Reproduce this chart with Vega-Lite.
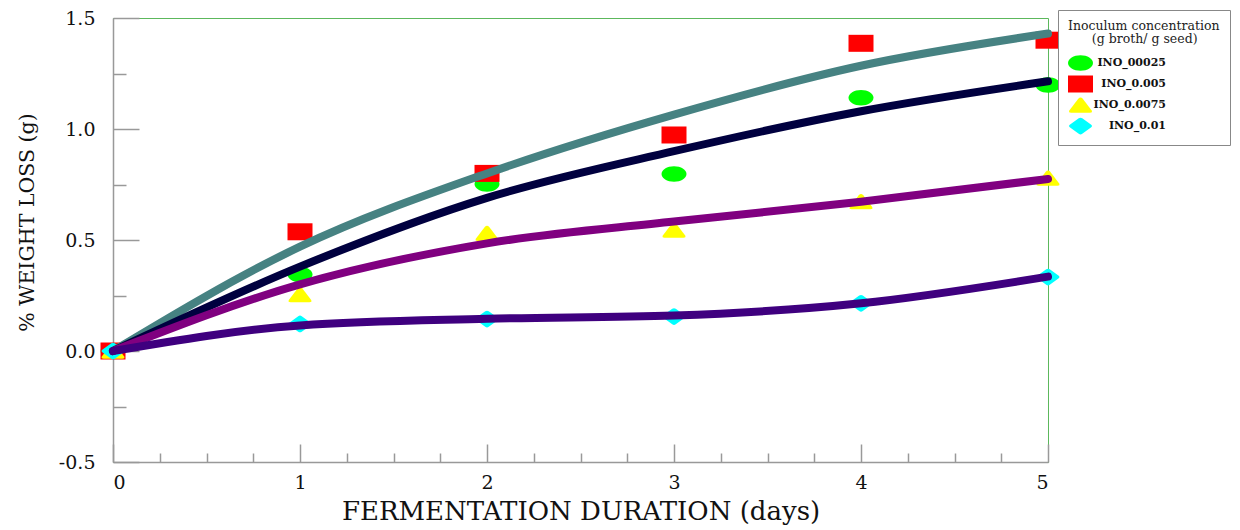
{
  "$schema": "https://vega.github.io/schema/vega-lite/v6.json",
  "width": 935,
  "height": 444,
  "autosize": {"type": "none"},
  "padding": {"left": 113, "top": 18, "right": 192, "bottom": 68},
  "background": "white",
  "datasets": {
    "points": [
      {"day": 0, "wl": 0, "conc": "INO_00025"},
      {"day": 1, "wl": 0.345, "conc": "INO_00025"},
      {"day": 2, "wl": 0.752, "conc": "INO_00025"},
      {"day": 3, "wl": 0.797, "conc": "INO_00025"},
      {"day": 4, "wl": 1.141, "conc": "INO_00025"},
      {"day": 5, "wl": 1.198, "conc": "INO_00025"},
      {"day": 0, "wl": 0, "conc": "INO_0.005"},
      {"day": 1, "wl": 0.537, "conc": "INO_0.005"},
      {"day": 2, "wl": 0.80, "conc": "INO_0.005"},
      {"day": 3, "wl": 0.973, "conc": "INO_0.005"},
      {"day": 4, "wl": 1.386, "conc": "INO_0.005"},
      {"day": 5, "wl": 1.40, "conc": "INO_0.005"},
      {"day": 0, "wl": 0, "conc": "INO_0.0075"},
      {"day": 1, "wl": 0.254, "conc": "INO_0.0075"},
      {"day": 2, "wl": 0.53, "conc": "INO_0.0075"},
      {"day": 3, "wl": 0.545, "conc": "INO_0.0075"},
      {"day": 4, "wl": 0.673, "conc": "INO_0.0075"},
      {"day": 5, "wl": 0.779, "conc": "INO_0.0075"},
      {"day": 0, "wl": 0, "conc": "INO_0.01"},
      {"day": 1, "wl": 0.122, "conc": "INO_0.01"},
      {"day": 2, "wl": 0.144, "conc": "INO_0.01"},
      {"day": 3, "wl": 0.155, "conc": "INO_0.01"},
      {"day": 4, "wl": 0.215, "conc": "INO_0.01"},
      {"day": 5, "wl": 0.333, "conc": "INO_0.01"}
    ],
    "fits": [
      {"day": 0, "wl": 0, "conc": "INO_0.005"},
      {"day": 1, "wl": 0.47, "conc": "INO_0.005"},
      {"day": 2, "wl": 0.80, "conc": "INO_0.005"},
      {"day": 3, "wl": 1.065, "conc": "INO_0.005"},
      {"day": 4, "wl": 1.285, "conc": "INO_0.005"},
      {"day": 5, "wl": 1.43, "conc": "INO_0.005"},
      {"day": 0, "wl": 0, "conc": "INO_00025"},
      {"day": 1, "wl": 0.38, "conc": "INO_00025"},
      {"day": 2, "wl": 0.69, "conc": "INO_00025"},
      {"day": 3, "wl": 0.90, "conc": "INO_00025"},
      {"day": 4, "wl": 1.08, "conc": "INO_00025"},
      {"day": 5, "wl": 1.215, "conc": "INO_00025"},
      {"day": 0, "wl": 0, "conc": "INO_0.0075"},
      {"day": 1, "wl": 0.30, "conc": "INO_0.0075"},
      {"day": 2, "wl": 0.485, "conc": "INO_0.0075"},
      {"day": 3, "wl": 0.583, "conc": "INO_0.0075"},
      {"day": 4, "wl": 0.672, "conc": "INO_0.0075"},
      {"day": 5, "wl": 0.775, "conc": "INO_0.0075"},
      {"day": 0, "wl": 0, "conc": "INO_0.01"},
      {"day": 1, "wl": 0.115, "conc": "INO_0.01"},
      {"day": 2, "wl": 0.145, "conc": "INO_0.01"},
      {"day": 3, "wl": 0.16, "conc": "INO_0.01"},
      {"day": 4, "wl": 0.215, "conc": "INO_0.01"},
      {"day": 5, "wl": 0.335, "conc": "INO_0.01"}
    ]
  },
  "layer": [
    {
      "data": {"name": "points"},
      "mark": {"type": "point", "filled": true, "size": 625, "opacity": 1, "strokeWidth": 0},
      "encoding": {
        "x": {
          "field": "day", "type": "quantitative",
          "scale": {"domain": [0, 5], "nice": false, "zero": false},
          "axis": {
            "orient": "bottom", "values": [0, 1, 2, 3, 4, 5], "format": "d",
            "tickSize": -18, "labelPadding": 29, "grid": false,
            "title": "FERMENTATION DURATION (days)",
            "titleFont": "DejaVu Serif", "titleFontSize": 26, "titleFontWeight": "normal",
            "titleBaseline": "alphabetic", "titleY": 57
          }
        },
        "y": {
          "field": "wl", "type": "quantitative",
          "scale": {"domain": [-0.5, 1.5], "nice": false, "zero": false},
          "axis": {
            "orient": "left", "values": [-0.5, 0, 0.5, 1, 1.5],
            "labelExpr": "datum.value < 0 ? '-0.5' : format(datum.value, '.1f')",
            "tickSize": -26, "labelPadding": 44, "grid": false,
            "title": "% WEIGHT LOSS (g)",
            "titleFont": "DejaVu Serif", "titleFontSize": 20.5, "titleFontWeight": "normal",
            "titleAngle": -90, "titleBaseline": "alphabetic", "titleX": -80, "titleY": 204, "titleAlign": "center"
          }
        },
        "color": {
          "field": "conc", "type": "nominal",
          "scale": {"domain": ["INO_00025", "INO_0.005", "INO_0.0075", "INO_0.01"], "range": ["#00ff00", "#ff0000", "#ffff00", "#00ffff"]},
          "legend": {"title": ["Inoculum concentration", "\u200c\u00a0\u00a0\u00a0\u00a0\u00a0\u00a0(g broth/ g seed)"], "rowPadding": -5, "columns": 1}
        },
        "shape": {
          "field": "conc", "type": "nominal",
          "scale": {
            "domain": ["INO_00025", "INO_0.005", "INO_0.0075", "INO_0.01"],
            "range": [
              "M-1,0A1,0.62,0,1,1,1,0A1,0.62,0,1,1,-1,0Z",
              "M-1,-0.68L1,-0.68L1,0.68L-1,0.68Z",
              "M-0.75,0.62Q-1,0.62,-0.88,0.42L-0.18,-0.5Q0,-0.72,0.18,-0.5L0.88,0.42Q1,0.62,0.75,0.62Z",
              "M-0.86,-0.1L-0.14,-0.62Q0,-0.72,0.14,-0.62L0.86,-0.1Q1,0,0.86,0.1L0.14,0.62Q0,0.72,-0.14,0.62L-0.86,0.1Q-1,0,-0.86,-0.1Z"
            ]
          },
          "legend": {"title": ["Inoculum concentration", "\u200c\u00a0\u00a0\u00a0\u00a0\u00a0\u00a0(g broth/ g seed)"], "rowPadding": -5, "columns": 1}
        }
      }
    },
    {
      "data": {"name": "fits"},
      "mark": {"type": "line", "strokeWidth": 8, "strokeCap": "round", "strokeJoin": "round", "interpolate": "monotone"},
      "encoding": {
        "x": {
          "field": "day", "type": "quantitative",
          "scale": {"domain": [0, 5], "nice": false, "zero": false},
          "axis": {
            "orient": "bottom",
            "values": [0.25, 0.5, 0.75, 1.25, 1.5, 1.75, 2.25, 2.5, 2.75, 3.25, 3.5, 3.75, 4.25, 4.5, 4.75],
            "labels": false, "domain": false, "title": null, "tickSize": -9, "grid": false
          }
        },
        "y": {
          "field": "wl", "type": "quantitative",
          "scale": {"domain": [-0.5, 1.5], "nice": false, "zero": false},
          "axis": {
            "orient": "left", "values": [-0.25, 0.25, 0.75, 1.25],
            "labels": false, "domain": false, "title": null, "tickSize": -13, "grid": false
          }
        },
        "stroke": {
          "field": "conc", "type": "nominal",
          "scale": {"domain": ["INO_0.005", "INO_00025", "INO_0.0075", "INO_0.01"], "range": ["#468282", "#00003f", "#800080", "#3f007f"]},
          "legend": null
        }
      }
    }
  ],
  "resolve": {
    "axis": {"x": "independent", "y": "independent"}
  },
  "config": {
    "view": {"stroke": "#5cb85c", "strokeWidth": 1},
    "axis": {
      "domainColor": "#999999", "domainWidth": 1.5,
      "tickColor": "#999999", "tickWidth": 1.5,
      "labelFont": "DejaVu Serif", "labelFontSize": 19, "labelColor": "#111111",
      "titleFont": "DejaVu Serif", "titleColor": "#111111"
    },
    "legend": {
      "orient": "none", "legendX": 945, "legendY": -8,
      "titleFont": "DejaVu Serif", "titleFontSize": 12.5, "titleFontWeight": "normal",
      "titleColor": "#222222", "titleAnchor": "start", "titleAlign": "left", "titleLineHeight": 13,
      "titlePadding": 5,
      "labelFont": "DejaVu Serif", "labelFontWeight": "bold", "labelFontSize": 11, "labelColor": "#111111",
      "labelAlign": "right", "labelOffset": 73,
      "strokeColor": "#888888", "fillColor": "white", "padding": 10,
      "rowPadding": -5, "symbolSize": 625, "symbolStrokeWidth": 0, "symbolOpacity": 1
    }
  }
}
